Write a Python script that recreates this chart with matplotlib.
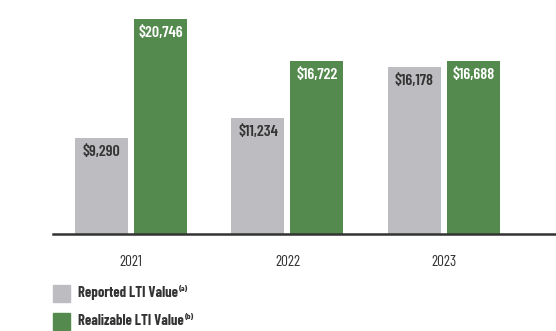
import matplotlib
matplotlib.use("Agg")
import matplotlib.pyplot as plt
from matplotlib import font_manager
import numpy as np

years = ["2021", "2022", "2023"]
reported = [9290, 11234, 16178]
realizable = [20746, 16722, 16688]
reported_labels = ["$9,290", "$11,234", "$16,178"]
realizable_labels = ["$20,746", "$16,722", "$16,688"]
legend_names = ["Reported LTI Value", "Realizable LTI Value"]
legend_sups = ["(a)", "(b)"]

GRAY = "#bdbdc1"
GREEN = "#548a4e"
DARK = "#333333"

avail = {f.name for f in font_manager.fontManager.ttflist}
prefs = ["Barlow Condensed", "Fira Sans Extra Condensed", "Asap Condensed",
         "Roboto Condensed", "DejaVu Sans"]
fam = next(p for p in prefs if p in avail or p == "DejaVu Sans")
plt.rcParams["font.family"] = [fam, "DejaVu Sans"]

W, H = 556, 331
fig = plt.figure(figsize=(W / 100, H / 100), dpi=100)
ax = fig.add_axes([53 / W, (H - 234) / H, 503 / W, 234 / H])

x = np.arange(len(years))
bw = 0.339
off = 0.1885
ax.bar(x - off, reported, bw, color=GRAY, zorder=2)
ax.bar(x + off, realizable, bw, color=GREEN, zorder=2)
ax.set_xlim(-0.498, 2.716)
ax.set_ylim(0, 22609)

for i in range(len(years)):
    ax.annotate(reported_labels[i], (x[i] - off, reported[i]), xytext=(0, -14),
                textcoords="offset pixels",
                ha="center", va="center", color=DARK, fontsize=11.5, fontweight="semibold")
    ax.annotate(realizable_labels[i], (x[i] + off, realizable[i]), xytext=(0, -14),
                textcoords="offset pixels",
                ha="center", va="center", color="white", fontsize=11.5, fontweight="semibold")
    ax.annotate(years[i], (x[i], 0), xytext=(0, -28), textcoords="offset pixels",
                ha="center", va="center", color=DARK, fontsize=11)

for s in ["top", "right", "left"]:
    ax.spines[s].set_visible(False)
ax.spines["bottom"].set_color(DARK)
ax.spines["bottom"].set_linewidth(1.8)
ax.spines["bottom"].set_zorder(3)
ax.set_xticks([])
ax.set_yticks([])
ax.patch.set_alpha(0)

renderer = fig.canvas.get_renderer()
colors = [GRAY, GREEN]
for j, (name, sup, c) in enumerate(zip(legend_names, legend_sups, colors)):
    yc = 293 + 28 * j
    fig.patches.append(plt.Rectangle((53 / W, (H - yc - 8.5) / H), 17 / W, 17 / H,
                                     transform=fig.transFigure, color=c))
    t = fig.text(78 / W, (H - yc) / H, name, ha="left", va="center",
                 fontsize=10.5, fontweight="bold", color=DARK)
    bb = t.get_window_extent(renderer)
    fig.text((bb.x1 + 1) / W, (H - yc + 5) / H, sup, ha="left", va="center",
             fontsize=6, fontweight="bold", color=DARK)

fig.savefig("out.png", dpi=100)
